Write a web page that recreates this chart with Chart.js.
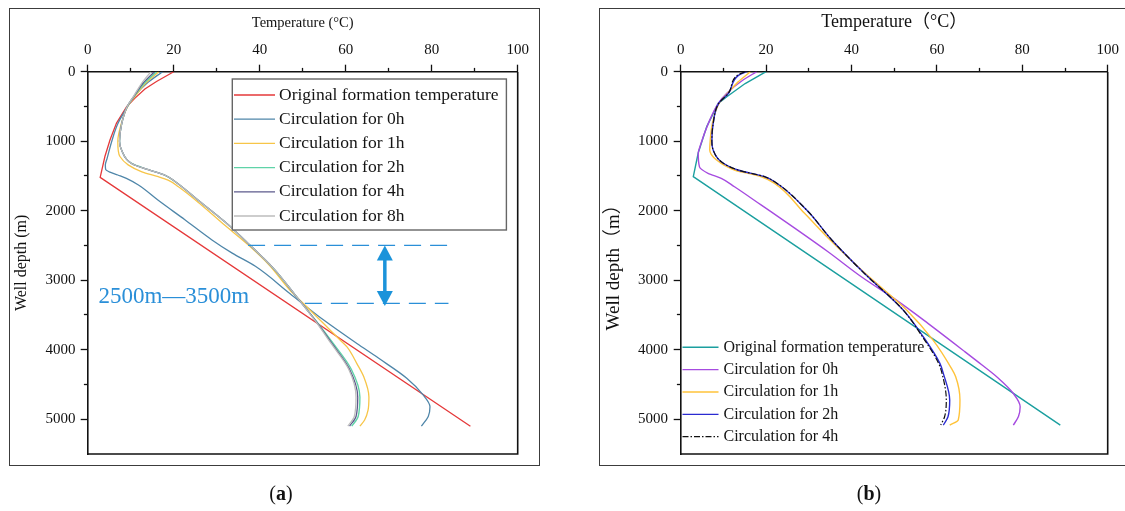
<!DOCTYPE html>
<html><head><meta charset="utf-8">
<script src="https://cdn.jsdelivr.net/npm/chart.js@4/dist/chart.umd.min.js"></script>
<style>
html,body{margin:0;padding:0;background:#fff;}
#wrap{position:relative;width:1125px;height:511px;overflow:hidden;background:#fff;}
.frame{position:absolute;border:1.6px solid #3c3c3c;box-sizing:border-box;}
.cv{position:absolute;top:0;}
.cap{position:absolute;width:100px;text-align:center;font:20px 'Liberation Serif',serif;color:#111;line-height:22px;}
</style></head><body>
<div id="wrap">
 <div class="frame" style="left:9px;top:8px;width:531px;height:458px"></div>
 <div class="frame" style="left:599px;top:8px;width:540px;height:458px"></div>
 <div class="cv" style="left:0;width:560px;height:511px"><canvas id="ca" width="560" height="511"></canvas></div>
 <div class="cv" style="left:560px;width:565px;height:511px"><canvas id="cb" width="565" height="511"></canvas></div>
 <div class="cap" style="left:231px;top:482px">(<b>a</b>)</div>
 <div class="cap" style="left:819px;top:482px">(<b>b</b>)</div>
</div>
<script>
// ---------- tick labels ----------
const tempTickLabels = [0, 20, 40, 60, 80, 100];
const depthTickLabels = [0, 1000, 2000, 3000, 4000, 5000];

// ---------- panel (a) data : depth (m) / temperature (°C) ----------
const labelsA = ['Original formation temperature','Circulation for 0h','Circulation for 1h','Circulation for 2h','Circulation for 4h','Circulation for 8h'];
const aOrigDepth = [0, 140, 250, 380, 500, 740, 980, 1220, 1520, 5100];
const aOrigTemp  = [20.0, 16.0, 13.3, 11.0, 9.1, 6.7, 5.2, 4.0, 2.9, 89.0];
const a0hDepth = [0, 170, 330, 500, 750, 1000, 1250, 1340, 1410, 1440, 1486, 1534, 1630, 1850, 2130, 2420, 2610, 2800, 3190, 3570, 3910, 4120, 4410, 4650, 4820, 4960, 5100];
const a0hTemp  = [17.4, 13.7, 11.2, 9.3, 7.0, 5.6, 4.5, 4.1, 4.2, 5.0, 7.0, 9.0, 11.8, 16.4, 22.6, 28.9, 33.6, 39.0, 47.0, 54.8, 62.6, 67.6, 74.2, 78.0, 79.6, 79.2, 77.6];
const a1hDepth = [0, 170, 330, 500, 750, 1000, 1130, 1220, 1340, 1440, 1510, 1560, 1655, 1920, 2210, 2490, 2780, 3140, 3330, 3620, 3860, 3960, 4200, 4390, 4680, 4870, 5010, 5100];
const a1hTemp  = [16.5, 13.4, 11.3, 9.3, 7.8, 7.0, 7.1, 7.5, 9.4, 12.6, 16.4, 18.7, 21.1, 26.5, 31.9, 37.3, 42.2, 47.0, 50.1, 54.8, 58.7, 60.3, 62.6, 64.2, 65.4, 65.2, 64.4, 63.3];
const a2hDepth = [0, 170, 330, 500, 750, 1000, 1130, 1320, 1410, 1490, 1580, 1850, 2160, 2470, 2830, 3240, 3600, 3910, 4280, 4680, 4960, 5100];
const a2hTemp  = [16.0, 13.1, 11.1, 9.2, 7.9, 7.4, 7.9, 10.2, 14.1, 18.0, 20.3, 25.7, 31.9, 37.3, 43.2, 48.6, 53.3, 57.1, 61.3, 63.3, 62.9, 61.4];
const a4hDepth = [0, 170, 330, 500, 750, 1000, 1130, 1320, 1410, 1490, 1580, 1850, 2160, 2470, 2830, 3240, 3600, 3910, 4280, 4680, 4960, 5100];
const a4hTemp  = [15.5, 12.8, 11.0, 9.2, 7.9, 7.4, 7.9, 10.2, 14.1, 18.0, 20.3, 25.7, 31.9, 37.3, 43.2, 48.6, 53.2, 56.8, 60.9, 62.8, 62.4, 60.9];
const a8hDepth = [0, 170, 330, 500, 750, 1000, 1130, 1320, 1410, 1490, 1580, 1850, 2160, 2470, 2830, 3240, 3600, 3910, 4280, 4680, 4960, 5100];
const a8hTemp  = [14.7, 12.5, 10.9, 9.2, 7.9, 7.4, 7.9, 10.2, 14.1, 18.0, 20.3, 25.7, 31.9, 37.3, 43.2, 48.6, 53.1, 56.6, 60.7, 62.4, 62.0, 60.5];
const colorsA = ['#e5393a', '#4f86a9', '#f7c548', '#5fd3a8', '#5c5a8c', '#bdbdbd'];

// ---------- panel (b) data ----------
const labelsB = ['Original formation temperature','Circulation for 0h','Circulation for 1h','Circulation for 2h','Circulation for 4h'];
const bOrigDepth = [0, 170, 360, 455, 790, 1170, 1510, 5085];
const bOrigTemp  = [20.0, 15.1, 10.8, 8.8, 6.1, 4.1, 2.95, 88.9];
const b0hDepth = [0, 120, 310, 455, 740, 1080, 1175, 1370, 1462, 1535, 1655, 1920, 2250, 2590, 2950, 3290, 3620, 4030, 4150, 4400, 4630, 4820, 4960, 5085];
const b0hTemp  = [17.8, 14.6, 10.8, 8.8, 6.5, 4.5, 4.1, 4.4, 6.4, 9.5, 12.6, 18.9, 26.7, 34.5, 42.3, 50.6, 57.9, 66.6, 69.1, 74.2, 77.9, 79.5, 79.1, 77.9];
const b1hDepth = [0, 150, 310, 455, 750, 1000, 1127, 1271, 1414, 1511, 1606, 2038, 2422, 2901, 3429, 3861, 4268, 4388, 4724, 5011, 5084];
const b1hTemp  = [16.3, 13.4, 11.0, 9.0, 7.4, 6.9, 6.8, 8.4, 12.6, 18.9, 22.0, 29.0, 35.0, 43.2, 52.9, 59.1, 63.4, 64.4, 65.4, 65.0, 63.0];
const b2hDepth = [0, 50, 310, 455, 750, 1000, 1127, 1295, 1414, 1511, 1583, 1990, 2422, 2901, 3429, 3813, 4196, 4340, 4724, 4964, 5084];
const b2hTemp  = [15.4, 13.6, 11.2, 8.9, 7.6, 7.3, 7.6, 9.5, 13.4, 19.7, 22.0, 29.5, 35.4, 43.0, 52.1, 56.8, 60.7, 61.5, 63.0, 62.6, 61.5];
const b4hDepth = [0, 50, 310, 455, 750, 1000, 1127, 1295, 1414, 1511, 1583, 1990, 2422, 2901, 3429, 3813, 4196, 4340, 4724, 4964, 5084];
const b4hTemp  = [15.1, 13.3, 11.2, 8.9, 7.6, 7.3, 7.6, 9.5, 13.4, 19.7, 22.0, 29.5, 35.4, 43.0, 52.1, 56.6, 60.4, 61.2, 62.2, 61.8, 60.9];
const colorsB = ['#1b9f9f', '#a64be0', '#ffc33a', '#2b2bd1', '#111111'];

// ---------- helpers ----------
const SERIF = "'Liberation Serif','Times New Roman',serif";
const SERIF_CJK = "'Liberation Serif','Noto Sans CJK SC',serif";
function series(depths, temps) { return depths.map((d, i) => ({x: temps[i], y: d})); }
const isMajorT = v => tempTickLabels.includes(v);
const isMajorD = v => depthTickLabels.includes(v);

function makeScales(c) {
  return {
    x: {
      type: 'linear', position: 'top', min: 0, max: 100,
      ticks: {stepSize: 10, maxTicksLimit: 20, autoSkip: false, maxRotation: 0, padding: c.xPad, color: '#111',
        font: {family: SERIF, size: c.tickSize}, callback: v => isMajorT(v) ? String(v) : ''},
      grid: {display: true, drawOnChartArea: false, drawTicks: true, tickLength: 7, tickWidth: 1.3, tickColor: '#111',
        tickBorderDash: ctx => (ctx.tick && !isMajorT(ctx.tick.value)) ? [5, 3.2] : [],
        tickBorderDashOffset: ctx => (ctx.tick && !isMajorT(ctx.tick.value)) ? 5 : 0},
      border: {display: true, color: '#111', width: 1.6},
      title: {display: true, text: c.xTitle, color: '#111', font: {family: SERIF_CJK, size: c.xTitleSize}, padding: {top: c.xTitlePad, bottom: 0}},
      afterFit: s => { s.height = c.top; }
    },
    y: {
      type: 'linear', position: 'left', reverse: true, min: 0, max: 5500,
      ticks: {stepSize: 500, maxTicksLimit: 20, autoSkip: false, padding: c.yPad, color: '#111',
        font: {family: SERIF, size: c.tickSize}, callback: v => isMajorD(v) ? String(v) : ''},
      grid: {display: true, drawOnChartArea: false, drawTicks: true, tickLength: 7, tickWidth: 1.3,
        tickColor: ctx => (ctx.tick && ctx.tick.value === 5500) ? 'rgba(0,0,0,0)' : '#111',
        tickBorderDash: ctx => (ctx.tick && !isMajorD(ctx.tick.value)) ? [5, 3.2] : [],
        tickBorderDashOffset: ctx => (ctx.tick && !isMajorD(ctx.tick.value)) ? 5 : 0},
      border: {display: true, color: '#111', width: 1.6},
      title: {display: true, text: c.yTitle, color: '#111', font: {family: SERIF_CJK, size: c.yTitleSize}, padding: {top: c.yTitlePad, bottom: 0}},
      afterFit: s => { s.width = c.left; }
    }
  };
}

const spinePlugin = {
  id: 'spines',
  beforeDatasetsDraw(chart) {
    const {ctx, chartArea: a} = chart;
    ctx.save();
    ctx.strokeStyle = '#111'; ctx.lineWidth = 1.6;
    ctx.beginPath(); ctx.moveTo(a.right, a.top); ctx.lineTo(a.right, a.bottom); ctx.lineTo(a.left, a.bottom); ctx.stroke();
    ctx.restore();
  }
};

const legendPlugin = {
  id: 'boxLegend',
  afterDatasetsDraw(chart, args, o) {
    const ctx = chart.ctx;
    ctx.save();
    if (o.box) {
      ctx.fillStyle = '#fff';
      ctx.fillRect(o.box.left, o.box.top, o.box.w, o.box.h);
      ctx.strokeStyle = o.box.color; ctx.lineWidth = o.box.width;
      ctx.strokeRect(o.box.left, o.box.top, o.box.w, o.box.h);
    }
    ctx.font = o.font; ctx.textBaseline = 'middle'; ctx.textAlign = 'left';
    chart.data.datasets.forEach((ds, i) => {
      const y = o.y + i * o.rowH;
      ctx.save();
      ctx.strokeStyle = ds.borderColor; ctx.lineWidth = ds.borderWidth; ctx.setLineDash(ds.borderDash || []);
      ctx.beginPath(); ctx.moveTo(o.x, y); ctx.lineTo(o.x + o.lineLen, y); ctx.stroke();
      ctx.restore();
      ctx.fillStyle = '#151515';
      ctx.fillText(ds.label, o.x + o.lineLen + o.gap, y);
    });
    ctx.restore();
  }
};

const annoPlugin = {
  id: 'rangeAnno',
  afterDatasetsDraw(chart, args, o) {
    if (!o || !o.lines) return;
    const {ctx, scales: {x, y}} = chart;
    ctx.save();
    ctx.strokeStyle = o.color; ctx.lineWidth = 1.3; ctx.setLineDash([17, 9]);
    o.lines.forEach(l => {
      ctx.beginPath();
      ctx.moveTo(x.getPixelForValue(l.x1), y.getPixelForValue(l.y));
      ctx.lineTo(x.getPixelForValue(l.x2), y.getPixelForValue(l.y));
      ctx.stroke();
    });
    ctx.setLineDash([]);
    const ax = x.getPixelForValue(o.arrow.x);
    const t = y.getPixelForValue(o.arrow.y1), b = y.getPixelForValue(o.arrow.y2);
    const hh = 15, hw = 8;
    ctx.fillStyle = o.arrowColor; ctx.strokeStyle = o.arrowColor; ctx.lineWidth = 3.5;
    ctx.beginPath(); ctx.moveTo(ax, t + hh - 2); ctx.lineTo(ax, b - hh + 2); ctx.stroke();
    ctx.beginPath(); ctx.moveTo(ax, t); ctx.lineTo(ax - hw, t + hh); ctx.lineTo(ax + hw, t + hh); ctx.closePath(); ctx.fill();
    ctx.beginPath(); ctx.moveTo(ax, b); ctx.lineTo(ax - hw, b - hh); ctx.lineTo(ax + hw, b - hh); ctx.closePath(); ctx.fill();
    ctx.font = o.label.font; ctx.fillStyle = o.label.color; ctx.textAlign = 'left'; ctx.textBaseline = 'middle';
    ctx.fillText(o.label.text, x.getPixelForValue(o.label.x), y.getPixelForValue(o.label.y));
    ctx.restore();
  }
};

function makeDatasets(labels, colors, depthArrs, tempArrs, widths, dashes) {
  return labels.map((lab, i) => ({
    label: lab,
    data: series(depthArrs[i], tempArrs[i]),
    borderColor: colors[i],
    backgroundColor: colors[i],
    borderWidth: widths[i],
    borderDash: dashes[i] || [],
    pointRadius: 0,
    fill: false,
    indexAxis: 'y',
    order: -i,
    tension: i === 0 ? 0 : 0.4,
    cubicInterpolationMode: i === 0 ? 'default' : 'monotone'
  }));
}

function baseOptions(c, extraPlugins) {
  return {
    responsive: false, animation: false, indexAxis: 'y', events: [],
    layout: {padding: {left: 0, top: 0, right: c.padRight, bottom: c.padBottom}},
    scales: makeScales(c),
    plugins: Object.assign({legend: {display: false}, tooltip: {enabled: false}}, extraPlugins)
  };
}

// ---------- chart (a) ----------
const cfgA = {top: 71.7, left: 87.7, padRight: 42.3, padBottom: 57, tickSize: 15, xPad: 5.2, yPad: 5.2,
  xTitle: 'Temperature (°C)', xTitleSize: 14.5, xTitlePad: 14.5,
  yTitle: 'Well depth (m)', yTitleSize: 16, yTitlePad: 12.4};
new Chart(document.getElementById('ca'), {
  type: 'line',
  data: {datasets: makeDatasets(labelsA, colorsA,
    [aOrigDepth, a0hDepth, a1hDepth, a2hDepth, a4hDepth, a8hDepth],
    [aOrigTemp, a0hTemp, a1hTemp, a2hTemp, a4hTemp, a8hTemp],
    [1.3, 1.3, 1.3, 1.4, 1.3, 1.3], [])},
  options: baseOptions(cfgA, {
    boxLegend: {x: 234, y: 95, rowH: 24.2, lineLen: 41, gap: 4, font: "17.5px " + SERIF,
      box: {left: 232.3, top: 79, w: 274.1, h: 151, color: '#666', width: 1.4}},
    rangeAnno: {color: '#2a8fd8', arrowColor: '#1b93da',
      lines: [{y: 2500, x1: 37.3, x2: 85.2}, {y: 3332, x1: 50.5, x2: 83.9}],
      arrow: {x: 69.1, y1: 2500, y2: 3370},
      label: {text: '2500m—3500m', x: 2.5, y: 3237, font: "23px " + SERIF, color: '#2a8fd8'}}
  }),
  plugins: [spinePlugin, legendPlugin, annoPlugin]
});

// ---------- chart (b) ----------
const cfgB = {top: 71.7, left: 120.7, padRight: 17.3, padBottom: 57, tickSize: 15, xPad: 5.2, yPad: 5.7,
  xTitle: 'Temperature（°C）', xTitleSize: 18, xTitlePad: 11.7,
  yTitle: 'Well depth（m）', yTitleSize: 19, yTitlePad: 42.6};
new Chart(document.getElementById('cb'), {
  type: 'line',
  data: {datasets: makeDatasets(labelsB, colorsB,
    [bOrigDepth, b0hDepth, b1hDepth, b2hDepth, b4hDepth],
    [bOrigTemp, b0hTemp, b1hTemp, b2hTemp, b4hTemp],
    [1.4, 1.4, 1.4, 1.4, 1.2], [null, null, null, null, [6, 2, 1.5, 2]])},
  options: baseOptions(cfgB, {
    boxLegend: {x: 122.5, y: 347.3, rowH: 22.35, lineLen: 36, gap: 5, font: "16px " + SERIF}
  }),
  plugins: [spinePlugin, legendPlugin]
});
</script>
</body></html>
